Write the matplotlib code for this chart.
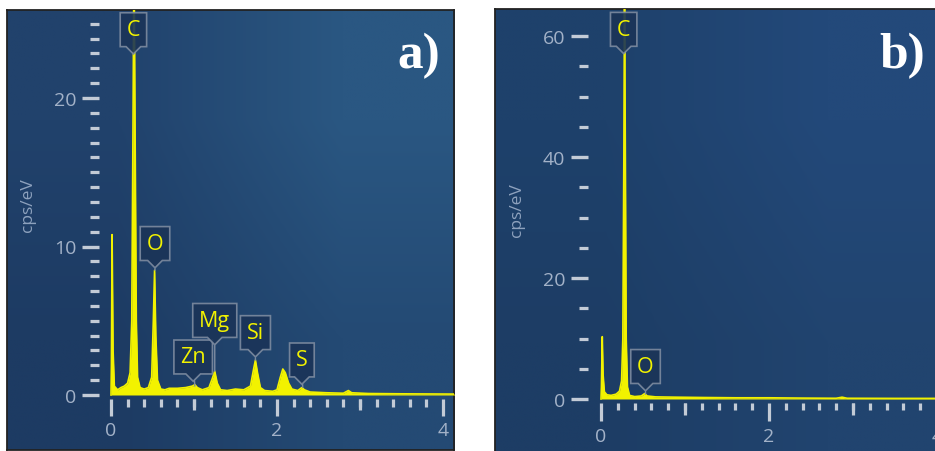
import numpy as np
import matplotlib
matplotlib.use("Agg")
import matplotlib.pyplot as plt
from matplotlib.path import Path
from matplotlib.ticker import MultipleLocator, FixedLocator, NullFormatter

plt.rcParams['font.family'] = ['Open Sans', 'DejaVu Sans']

# spectrum a) (keV, cps/eV)
energy_a = [0.0, 0.005, 0.013, 0.025, 0.04, 0.08, 0.12, 0.16, 0.2, 0.23, 0.25, 0.265, 0.277,
            0.29, 0.305, 0.32, 0.35, 0.4, 0.45, 0.49, 0.51, 0.525, 0.54, 0.56, 0.6, 0.65,
            0.7, 0.8, 0.9, 0.98, 1.01, 1.04, 1.1, 1.18, 1.22, 1.25, 1.28, 1.32, 1.4, 1.5,
            1.6, 1.68, 1.72, 1.74, 1.765, 1.8, 1.85, 1.95, 2.0, 2.04, 2.07, 2.1, 2.14,
            2.18, 2.25, 2.3, 2.33, 2.4, 2.6, 2.8, 2.86, 2.9, 3.1, 3.5, 4.2]
counts_a = [0.0, 2.0, 10.8, 3.0, 0.6, 0.35, 0.5, 0.6, 0.8, 1.5, 5.0, 18.0, 30.0,
            18.0, 5.0, 1.2, 0.5, 0.4, 0.5, 1.2, 5.0, 8.4, 4.0, 1.0, 0.4, 0.35,
            0.45, 0.45, 0.5, 0.6, 0.7, 0.5, 0.35, 0.5, 1.1, 1.6, 0.8, 0.35, 0.3, 0.4,
            0.35, 0.6, 1.8, 2.35, 1.5, 0.5, 0.3, 0.25, 0.35, 1.2, 1.75, 1.5, 0.8,
            0.4, 0.3, 0.5, 0.35, 0.2, 0.15, 0.12, 0.3, 0.15, 0.1, 0.08, 0.06]

# spectrum b)
energy_b = [0.0, 0.005, 0.015, 0.025, 0.04, 0.07, 0.12, 0.18, 0.22, 0.245, 0.26, 0.272,
            0.28, 0.29, 0.3, 0.315, 0.34, 0.4, 0.48, 0.52, 0.55, 0.65, 0.9, 1.2, 1.6,
            2.0, 2.4, 2.8, 2.87, 2.93, 3.5, 4.1]
counts_b = [0.0, 2.0, 10.3, 4.0, 1.2, 0.7, 0.6, 0.8, 1.3, 3.0, 10.0, 40.0,
            68.0, 40.0, 10.0, 2.0, 0.6, 0.4, 0.5, 0.9, 0.5, 0.35, 0.3, 0.25, 0.2,
            0.2, 0.15, 0.12, 0.3, 0.12, 0.1, 0.1]

# element tags: name, label position, peak position
tags_a = [("C", (0.27, 24.6), None),
          ("O", (0.53, 10.2), (0.53, 8.4)),
          ("Zn", (0.99, 2.56), (1.01, 0.6)),
          ("Mg", (1.25, 5.02), (1.25, 1.6)),
          ("Si", (1.74, 4.2), (1.74, 2.35)),
          ("S", (2.30, 2.36), (2.31, 0.5))]
tags_b = [("C", (0.27, 61.1), None),
          ("O", (0.53, 5.37), (0.53, 0.8))]

YEL = '#f2f200'
TICK = '#c3cbd6'
LAB = '#a3b2c8'
W, H = 935, 452


def callout(x0, y0, width, height, mutation_size):
    pad = 0.3 * mutation_size
    x0 -= pad
    y0 -= pad
    x1 = x0 + width + 2 * pad
    y1 = y0 + height + 2 * pad
    cx = (x0 + x1) / 2
    n = 0.34 * mutation_size
    verts = [(x0, y0), (cx - n, y0), (cx, y0 - n), (cx + n, y0), (x1, y0),
             (x1, y1), (x0, y1), (x0, y0)]
    codes = [Path.MOVETO] + [Path.LINETO] * 6 + [Path.CLOSEPOLY]
    return Path(verts, codes)


def px_rect(left, top, right, bottom):
    return [left / W, 1 - bottom / H, (right - left) / W, (bottom - top) / H]


def background(fig, rect, colors):
    bg = fig.add_axes(rect, zorder=0)
    img = np.array([[matplotlib.colors.to_rgb(c) for c in row] for row in colors])
    bg.imshow(img, extent=[0, 1, 0, 1], aspect='auto', interpolation='bilinear', origin='upper')
    bg.set_xticks([])
    bg.set_yticks([])
    for s in bg.spines.values():
        s.set_color('#222222')
        s.set_linewidth(1.3)
    return bg


def panel(fig, rect, xlim, ylim, energy, counts, ymajor, yminor, xlen, tags, letter, letter_xy, ylab_xy):
    ax = fig.add_axes(rect, zorder=2)
    ax.patch.set_alpha(0)
    ax.set_xlim(*xlim)
    ax.set_ylim(*ylim)
    ax.fill_between(energy, counts, 0, color=YEL, lw=0)
    ax.plot(energy, counts, color=YEL, lw=1.2)
    for s in ax.spines.values():
        s.set_visible(False)
    ax.yaxis.set_major_locator(MultipleLocator(ymajor))
    ax.yaxis.set_minor_locator(MultipleLocator(yminor))
    ax.xaxis.set_major_locator(MultipleLocator(2))
    ax.xaxis.set_minor_locator(MultipleLocator(0.2))
    ax.tick_params(axis='y', which='major', length=12.5, width=2.4, color=TICK,
                   labelcolor=LAB, labelsize=14, pad=4)
    ax.tick_params(axis='y', which='minor', length=6.2, width=2.3, color=TICK)
    ax.tick_params(axis='x', which='major', length=xlen[0], width=2.3, color=TICK,
                   labelcolor=LAB, labelsize=14, pad=4)
    ax.tick_params(axis='x', which='minor', length=xlen[1], width=2.3, color=TICK)
    sec = ax.secondary_xaxis(0)
    sec.xaxis.set_major_locator(FixedLocator([1, 3]))
    sec.xaxis.set_major_formatter(NullFormatter())
    sec.tick_params(length=xlen[2], width=2.3, color=TICK)
    for s in sec.spines.values():
        s.set_visible(False)

    for name, txy, pxy in tags:
        kw = dict(ha='center', va='center', color=YEL, fontsize=15.5, zorder=5,
                  bbox=dict(boxstyle=callout, fc='#1b3458', ec='#7d8ba0', lw=1.2, alpha=0.9),
                  annotation_clip=False)
        if pxy is None:
            ax.annotate(name, xy=txy, **kw)
        else:
            ax.annotate(name, xy=pxy, xytext=txy,
                        arrowprops=dict(arrowstyle='-', color='#7d8ba0', lw=1,
                                        shrinkA=0, shrinkB=0), **kw)

    fig.text(letter_xy[0] / W, 1 - letter_xy[1] / H, letter, ha='right', va='baseline',
             color='white', fontsize=37, fontweight='bold', family='Liberation Serif', zorder=6)
    fig.text(ylab_xy[0] / W, 1 - ylab_xy[1] / H, 'cps/eV', rotation=90, ha='center',
             va='center', color='#8ea2be', fontsize=12.5, zorder=6)
    return ax


fig = plt.figure(figsize=(W / 100, H / 100), dpi=100)

background(fig, px_rect(7, 11, 454, 451),
           [['#21426c', '#2a5782'], ['#1d3b63', '#244a74']])
background(fig, px_rect(495, 10, 940, 456),
           [['#1e416b', '#23497a'], ['#1d3d65', '#21446f']])

panel(fig, px_rect(99, 11, 454, 400), ((99 - 111) / 83, (454 - 111) / 83),
      (-(400 - 396) / 14.85, (396 - 11) / 14.85), energy_a, counts_a, 10, 1,
      (12.2, 5.4, 8), tags_a, 'a)', (440, 68), (28, 205))
panel(fig, px_rect(588, 10, 940, 404), ((588 - 601) / 84, (940 - 601) / 84),
      (-(404 - 400) / 6.05, (400 - 10) / 6.05), energy_b, counts_b, 20, 5,
      (13, 5.0, 8.6), tags_b, 'b)', (925, 68), (517, 210))

fig.savefig('out.png', dpi=100)
